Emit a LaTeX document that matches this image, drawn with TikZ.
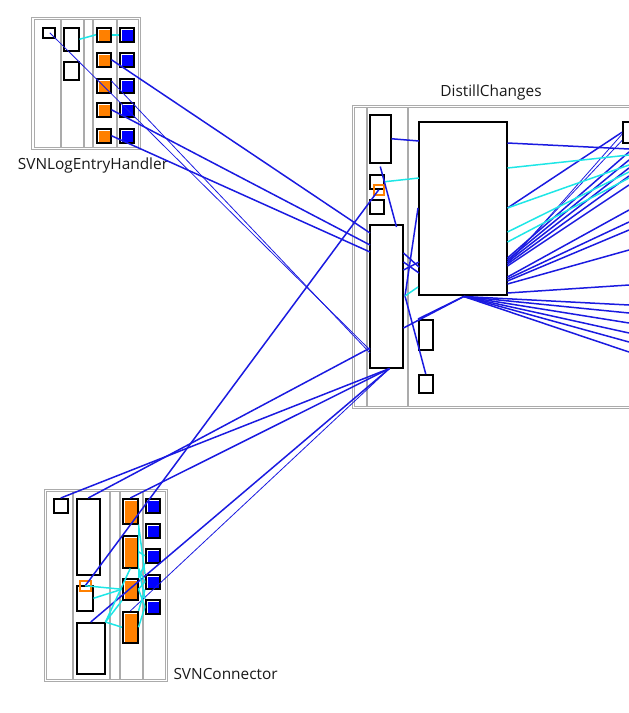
\documentclass[tikz,border=0pt]{standalone}
\usepackage{fontspec}
\setmainfont{Open Sans}
\usepackage{tikz}
\usetikzlibrary{calc}
\definecolor{DepBlue}{HTML}{1A1AE0}
\definecolor{DepCyan}{HTML}{1EE6E6}
\definecolor{PortOrange}{HTML}{FF8000}
\definecolor{BoxBlue}{HTML}{0000FF}
\definecolor{FrameGray}{HTML}{ABABAB}
\tikzset{
  wh/.style 2 args={minimum width=#1pt,minimum height=#2pt},
  whitebox/.style={draw=black,fill=white,line width=1.5pt,inner sep=0pt,anchor=north west},
  bevel/.style={path picture={\draw[white,line width=1pt]
      ($(path picture bounding box.south west)+(2,-1)$) -- ($(path picture bounding box.north west)+(2,2)$)
      -- ($(path picture bounding box.north east)+(-1,2)$);}},
  orangebox/.style={whitebox,fill=PortOrange,bevel},
  bluebox/.style={whitebox,fill=BoxBlue,bevel},
  portbox/.style={draw=PortOrange,line width=1.5pt,inner sep=0pt,anchor=north west},
  framebox/.style={draw=FrameGray,line width=1pt,double=white,double distance=1.4pt},
  sepline/.style={draw=FrameGray,line width=1.8pt},
  dep/.style={draw=DepBlue,line width=1.5pt},
  thindep/.style={draw=DepBlue,line width=0.8pt},
  cdep/.style={draw=DepCyan,line width=1.5pt},
  title/.style={font=\fontsize{15.4}{17}\selectfont,text=black!90}
}

\begin{document}
\begin{tikzpicture}[x=1pt,y=-1pt]
  \useasboundingbox (0,0) rectangle (629,713);
  \clip (0,0) rectangle (629,713);
  \draw[framebox] (33,18.5) rectangle (139.5,148.5);
  \foreach \x in {61,84,93,117} \draw[sepline] (\x,20) -- (\x,147);
  \draw[framebox] (353.5,106.5) rectangle (660,407.5);
  \foreach \x in {367,408} \draw[sepline] (\x,108) -- (\x,406);
  \draw[framebox] (45.5,490.5) rectangle (166.5,680.5);
  \foreach \x in {73,110,120,143} \draw[sepline] (\x,492) -- (\x,679);

  \node[whitebox,wh={12}{10}] (ls1) at (42,27) {};
  \node[whitebox,wh={15}{23}] (lh2) at (63,27) {};
  \node[whitebox,wh={15}{18}] (lh3) at (63,61) {};
  \foreach \y [count=\i] in {27,52,78,102,128} {
    \node[orangebox,wh={14}{14}] (lo\i) at (96,\y) {};
    \node[bluebox,wh={14}{14}] (lb\i) at (119,\y) {};
  }

  \node[whitebox,wh={21}{48}] (da) at (369,114) {};
  \node[whitebox,wh={14}{14}] (db) at (369,174) {};
  \node[whitebox,wh={14}{14}] (dc) at (369,199) {};
  \node[portbox,wh={10}{10}] (dport) at (373,184) {};
  \node[whitebox,wh={33}{143}] (dd) at (369,224) {};
  \node[whitebox,wh={88}{173}] (de) at (418,121) {};
  \node[whitebox,wh={14}{30}] (df) at (418,319) {};
  \node[whitebox,wh={14}{18}] (dg) at (418,374) {};
  \node[whitebox,wh={24}{21}] (dr) at (622,121) {};

  \node[whitebox,wh={14}{14}] (ss1) at (53,498) {};
  \node[whitebox,wh={23}{76}] (st) at (76,498) {};
  \node[whitebox,wh={16}{25}] (sm) at (76,585) {};
  \node[portbox,wh={11}{10}] (sport) at (79,580) {};
  \node[whitebox,wh={28}{51}] (sbb) at (76,622) {};
  \foreach \y/\h [count=\i] in {498/25,535/32,578/21,611/31}
    \node[orangebox,wh={15}{\h}] (so\i) at (122,\y) {};
  \foreach \y [count=\i] in {498,523,548,574,599}
    \node[bluebox,wh={14}{14}] (sb\i) at (145,\y) {};

  \node[title] (lehlabel) at (93,165) {SVNLogEntryHandler};
  \node[title] (dclabel) at (491,92) {DistillChanges};
  \node[title,anchor=west] (sclabel) at (170,674) {SVNConnector};

  \draw[cdep] (lh2.east) -- (lo1.west);
  \draw[cdep] (lo1.east) -- (lb1.west);
  \draw[thindep] ($(ls1.center)+(1,0)$) -- ($(dd.north west)+(1,126)$);
  \draw[thindep] ($(lo3.north east)+(0,3)$) -- ($(dd.north west)+(1,129)$);
  \draw[dep] (lo2.east) -- ($(dd.north west)+(1,9)$);
  \draw[dep] (lo4.east) -- ($(dd.north west)+(1,21)$);
  \draw[dep] (lo5.east) -- ($(dd.north west)+(1,28)$);

  \draw[dep] (da.east) -- ($(de.north west)+(1,20)$);
  \draw[cdep] (db.east) -- ($(de.north west)+(1,57)$);
  \draw[dep] ($(da.south)+(0,3)$) -- ($(dd.north east)+(-7,3)$);
  \draw[dep] ($(dd.north east)+(0,29)$) -- ($(de.north west)+(1,146)$);
  \draw[dep] ($(dd.north east)+(0,38)$) -- ($(de.north west)+(1,152)$);
  \draw[dep] ($(dd.north east)+(0,46)$) -- ($(de.north west)+(1,141)$);
  \draw[dep] ($(dd.north east)+(0,104)$) -- ($(de.south)+(1,1)$);
  \draw[dep] (df.north west) -- ($(de.south)+(1,1)$);
  \coordinate (dx) at (405,296);
  \draw[dep] (dg.north) -- (dx);
  \draw[dep] (dx) -- ($(de.north west)+(0,87)$);
  \draw[cdep] (dx) -- ($(de.north west)+(0,166)$);

  \foreach \s/\y [count=\i] in {22/149,137/152,139/160,141/168,143/176,145/185,156/210,158/222,160/230,163/250,172/285} {
    \coordinate (ra\i) at (629,\y);
    \draw[dep] ($(de.north east)+(0,\s)$) -- (ra\i);
  }
  \draw[dep] ($(de.north east)+(0,87)$) -- (dr.west);
  \draw[thindep] ($(de.north east)+(0,141)$) -- ($(dr.south west)+(0,-3)$);
  \draw[thindep] ($(de.north east)+(0,143)$) -- ($(dr.west)+(0,2)$);
  \foreach \y [count=\i] in {305,313,323,333,342,352} {
    \coordinate (rb\i) at (629,\y);
    \draw[dep] ($(de.south)+(1,1)$) -- (rb\i);
  }
  \foreach \s/\y [count=\i] in {47/155,87/165,111/172,121/178} {
    \coordinate (rc\i) at (629,\y);
    \draw[cdep] ($(de.north east)+(0,\s)$) -- (rc\i);
  }

  \draw[dep] (ss1.north) -- ($(dd.south east)+(-14,0)$);
  \draw[dep] (st.north) -- ($(dd.north west)+(1,124)$);
  \draw[dep] (so1.north) -- ($(dd.south east)+(-14,0)$);
  \draw[dep] (sport.center) -- (dport.center);
  \draw[dep] (sbb.north) -- ($(dd.south east)+(-14,0)$);
  \draw[thindep] (so4.north) -- ($(dd.south east)+(-14,0)$);

  \draw[cdep] (sport.center) -- (so3.west);
  \draw[cdep] (sm.east) -- (so3.west);
  \draw[cdep] (sbb.north east) -- (so2.south);
  \draw[cdep] (sbb.north east) -- (so3.south west);
  \draw[cdep] (sbb.north east) -- (so4.west);
  \draw[cdep] (so1.south east) -- (so3.north east);
  \draw[cdep] (so1.south east) -- (sb4.north west);
  \draw[cdep] (so2.east) -- (sb3.west);
  \draw[cdep] (so2.south east) -- (sb4.west);
  \draw[cdep] (so2.south east) -- (sb5.north west);
  \draw[cdep] (so3.north east) -- (sb3.south west);
  \draw[cdep] (so3.east) -- (sb4.west);
  \draw[cdep] (so3.east) -- (sb5.west);
  \draw[cdep] (so4.north east) -- (sb4.south west);
  \draw[cdep] (so4.east) -- (sb5.west);
\end{tikzpicture}
\end{document}
